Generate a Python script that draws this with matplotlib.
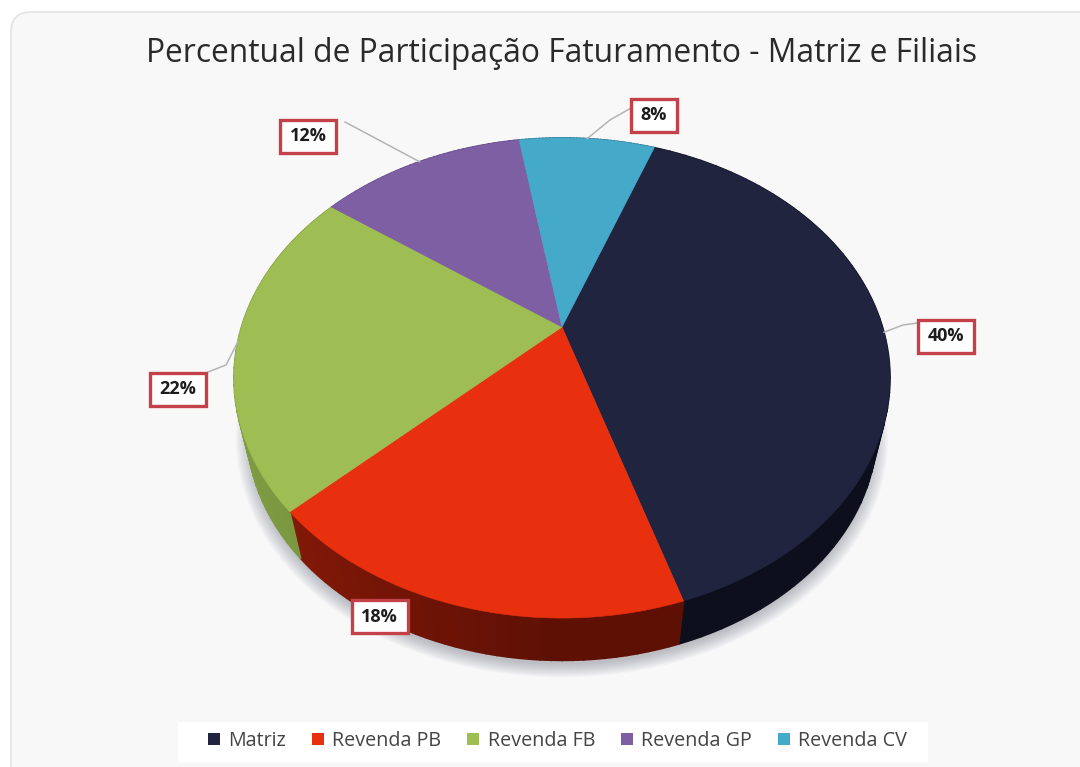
"""
Pie with a fake 3D look: slices are drawn on a tilted disc with perspective.
"""
import numpy as np
import matplotlib.pyplot as plt
from matplotlib.colors import to_rgb
from matplotlib.patches import FancyBboxPatch, Polygon, Rectangle

TITLE = "Percentual de Participação Faturamento - Matriz e Filiais"
CATEGORIES = ["Matriz", "Revenda PB", "Revenda FB", "Revenda GP", "Revenda CV"]
VALUES = [39.5, 17.8, 22.1, 12.4, 8.2]
LABELS = ["40%", "18%", "22%", "12%", "8%"]
COLORS = ["#20243f", "#e8300f", "#9ebd52", "#7f5fa3", "#45a9c9"]
WALL_COLORS = ["#0d0f1c", "#5e1005", "#6f8a3a", "#55407a", "#2c7a94"]

# ==== layout (pixels) ====
W, H = 1080, 767
START_DEG = 20.2
APEX = (562, 327)
TILT = 0.2125
RX, RY = 320.5, 229.2
FLOOR_Y = 381
FLOOR_SCALE = 0.96
LABEL_BOX = [(945.5, 336), (379.5, 616.5), (178, 389), (308, 136), (654, 115)]
LABEL_W = {"8%": 46}
ELBOW = [(903, 325), None, (226, 365), (345, 122), (610, 120)]
# =========================


def project(deg, scale=1.0, cy=APEX[1], grow=1.0):
    t = np.radians(deg)
    x, y = np.sin(t), np.cos(t)
    den = 1 + TILT * y
    return np.column_stack([
        APEX[0] + scale * grow * RX * x / den,
        cy - scale * grow * RY * y / den,
    ])


def mix(col, other, amount):
    a, b = np.array(to_rgb(col)), np.array(to_rgb(other))
    return tuple(a * (1 - amount) + b * amount)


plt.rcParams["font.family"] = ["Open Sans", "Noto Sans", "DejaVu Sans"]

fig = plt.figure(figsize=(W / 100, H / 100), dpi=100, facecolor="white")
ax = fig.add_axes([0, 0, 1, 1])
ax.set_xlim(0, W)
ax.set_ylim(H, 0)
ax.axis("off")

# card
ax.add_patch(FancyBboxPatch((11 + 20, 12 + 20), W + 60, H + 60,
                            boxstyle="round,pad=20,rounding_size=20",
                            fc="#f8f8f9", ec="#e3e3e3", lw=1.2, zorder=0))

ax.text(561, 54, TITLE, ha="center", va="center", fontsize=22.85,
        color="#2a2a2a", zorder=5)

# soft shadow under the disc
circle = np.linspace(0, 360, 241)
for i, grow in enumerate(np.linspace(1.035, 0.99, 10)):
    pts = project(circle, FLOOR_SCALE, FLOOR_Y + 7, grow)
    ax.add_patch(Polygon(pts, fc="#5a6070", ec="none", alpha=0.045, zorder=1))

# slice edges
fracs = np.array(VALUES) / np.sum(VALUES)
edges = START_DEG + np.concatenate([[0], np.cumsum(fracs) * 360])
mids = (edges[:-1] + edges[1:]) / 2

# side walls, a little lighter towards the left of the disc
for i in range(len(VALUES)):
    a = np.linspace(edges[i], edges[i + 1], 41)
    for a0, a1 in zip(a[:-1], a[1:]):
        arc = np.linspace(a0, a1, 3)
        top = project(arc)
        bottom = project(arc[::-1], FLOOR_SCALE, FLOOR_Y)
        shade = 0.3 * max(0.0, -np.sin(np.radians(a0)) * 1.2)
        col = mix(WALL_COLORS[i], COLORS[i], shade)
        ax.add_patch(Polygon(np.vstack([top, bottom]), fc=col, ec=col, lw=1.2, zorder=2))

# top faces
for i in range(len(VALUES)):
    arc = project(np.linspace(edges[i], edges[i + 1], 120))
    pts = np.vstack([[APEX], arc])
    ax.add_patch(Polygon(pts, fc=COLORS[i], ec=COLORS[i], lw=0.4, zorder=3))

# leaders and boxed labels
for i, lab in enumerate(LABELS):
    bx, by = LABEL_BOX[i]
    if ELBOW[i] is not None:
        tip = project(np.array([mids[i]]))[0]
        ex, ey = ELBOW[i]
        if i == 0:
            path = [(tip[0], tip[1]), (ex, ey), (bx - 28, ey - 2)]
        elif i == 2:
            path = [(tip[0], tip[1]), (ex, ey), (bx + 30, by - 17)]
        elif i == 3:
            path = [(tip[0], tip[1]), (ex, ey)]
        else:
            path = [(tip[0], tip[1]), (ex, ey), (bx - 23, by - 7)]
        ax.plot(*zip(*path), color="#b4b4b4", lw=1.1, zorder=4)
    w = LABEL_W.get(lab, 56)
    ax.add_patch(Rectangle((bx - w / 2, by - 16.5), w, 33, fc="white",
                           ec="#c4414a", lw=2.4, zorder=6))
    ax.text(bx, by, lab, ha="center", va="center", fontsize=13,
            fontweight="bold", color="#1c1c1c", zorder=7)

# legend on its own white strip
ax.add_patch(Rectangle((178, 722), 750, 40, fc="white", ec="none", zorder=7))
handles = [Rectangle((0, 0), 1, 1, fc=c, ec="none") for c in COLORS]
leg = ax.legend(handles, CATEGORIES, ncol=5, loc="center",
                bbox_to_anchor=(557.5 / W, 1 - 741 / H), frameon=False,
                fontsize=14.2, handlelength=0.62, handleheight=0.62,
                handletextpad=0.42, columnspacing=1.3, borderpad=0.6,
                labelcolor="#444444")
leg.set_zorder(8)

fig.savefig("out.png", dpi=100, facecolor="white")
